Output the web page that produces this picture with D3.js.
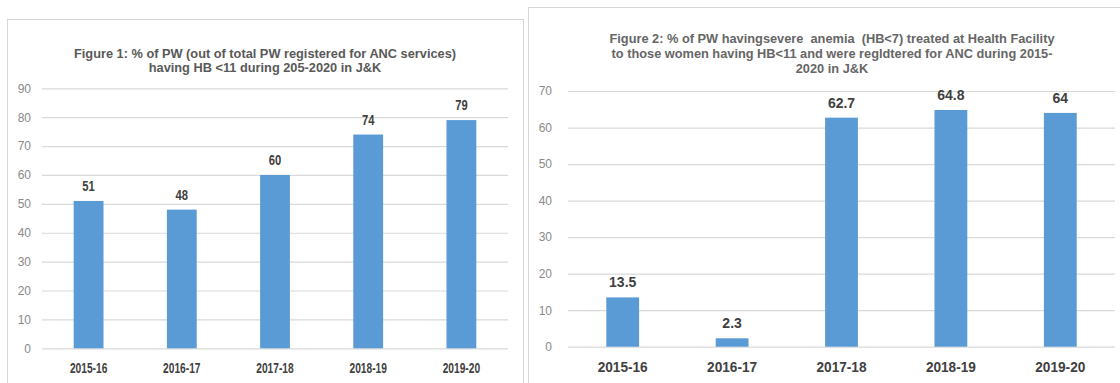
<!DOCTYPE html>
<html>
<head>
<meta charset="utf-8">
<script src="https://cdn.jsdelivr.net/npm/d3@7"></script>
<style>
  html, body { margin: 0; padding: 0; background: #fff; }
  svg { display: block; }
  text { white-space: pre; }
</style>
</head>
<body>
<svg id="chart" width="1120" height="383"></svg>
<script>
// ---- data ----
const years = ["2015-16", "2016-17", "2017-18", "2018-19", "2019-20"];
const hbBelow11Pct = [51, 48, 60, 74, 79];
const severeTreatedPct = [13.5, 2.3, 62.7, 64.8, 64];
const fig1Ticks = [0, 10, 20, 30, 40, 50, 60, 70, 80, 90];
const fig2Ticks = [0, 10, 20, 30, 40, 50, 60, 70];
const fig1Title = [
  "Figure 1: % of PW (out of total PW registered for ANC services)",
  "having HB <11 during 205-2020 in J&K"
];
const fig2Title = [
  "Figure 2: % of PW havingsevere  anemia  (HB<7) treated at Health Facility",
  "to those women having HB<11 and were regldtered for ANC during 2015-",
  "2020 in J&K"
];

// ---- layout ----
const FONT = "'Liberation Sans', Arial, sans-serif";
const BAR = "#5b9bd5";
const GRID = "#d9d9d9";

const panels = [
  {
    values: hbBelow11Pct, ticks: fig1Ticks, title: fig1Title,
    frame: { x: 7.5, y: 19.5, w: 516, h: 420 },
    left: 42, right: 508, top: 88.3, bottom: 348.3,
    padInner: 0.68, padOuter: 0.34,
    tickPad: 11,
    titleX: 265, titleY: [58, 72], titleSize: 13.5, titleWeight: "bold", titleColor: "#595959", titleWidth: 382,
    xSize: 15, xSquash: 0.68, labelSize: 14, labelSquash: 0.8
  },
  {
    values: severeTreatedPct, ticks: fig2Ticks, title: fig2Title,
    frame: { x: 528.5, y: 7.5, w: 620, h: 420 },
    left: 568, right: 1115, top: 91, bottom: 346.7,
    padInner: 0.70, padOuter: 0.35,
    tickPad: 16,
    titleX: 832, titleY: [43, 58, 73], titleSize: 13, titleWeight: "bold", titleColor: "#666666", titleWidth: 445,
    xSize: 14.5, xSquash: 0.94, labelSize: 14, labelSquash: 1.0
  }
];

const svg = d3.select("#chart");

function squash(sel, k) {
  sel.each(function () {
    const n = this.getComputedTextLength();
    d3.select(this).attr("textLength", n * k).attr("lengthAdjust", "spacingAndGlyphs");
  });
}

panels.forEach(p => {
  const g = svg.append("g");

  // chart frame
  g.append("rect")
    .attr("x", p.frame.x).attr("y", p.frame.y)
    .attr("width", p.frame.w).attr("height", p.frame.h)
    .attr("fill", "#fff").attr("stroke", "#d6d6d6").attr("stroke-width", 1);

  const x = d3.scaleBand().domain(years).range([p.left, p.right])
    .paddingInner(p.padInner).paddingOuter(p.padOuter);
  const y = d3.scaleLinear().domain([0, d3.max(p.ticks)]).range([p.bottom, p.top]);

  // gridlines + value axis labels
  const yAxis = d3.axisLeft(y).tickValues(p.ticks).tickFormat(d3.format("d"))
    .tickSize(-(p.right - p.left)).tickPadding(p.tickPad);
  const ay = g.append("g").attr("transform", `translate(${p.left},0)`).call(yAxis);
  ay.select(".domain").remove();
  ay.selectAll(".tick line").attr("stroke", GRID).attr("stroke-width", 1.2);
  ay.selectAll(".tick text").attr("fill", "#8a8a8a")
    .style("font-family", FONT).style("font-size", "12px");

  // bars
  g.selectAll("rect.bar").data(p.values).join("rect")
    .attr("class", "bar")
    .attr("x", (d, i) => x(years[i]))
    .attr("width", x.bandwidth())
    .attr("y", d => y(d))
    .attr("height", d => y(0) - y(d))
    .attr("fill", BAR);

  // value labels
  const vl = g.selectAll("text.val").data(p.values).join("text")
    .attr("class", "val")
    .attr("x", (d, i) => x(years[i]) + x.bandwidth() / 2)
    .attr("y", d => y(d) - 10)
    .attr("text-anchor", "middle")
    .attr("fill", "#404040")
    .style("font-family", FONT).style("font-size", p.labelSize + "px").style("font-weight", "bold")
    .text(d => d);
  squash(vl, p.labelSquash);

  // category labels
  const xl = g.selectAll("text.cat").data(years).join("text")
    .attr("class", "cat")
    .attr("x", d => x(d) + x.bandwidth() / 2)
    .attr("y", p.bottom + 25)
    .attr("text-anchor", "middle")
    .attr("fill", "#404040")
    .style("font-family", FONT).style("font-size", p.xSize + "px").style("font-weight", "bold")
    .text(d => d);
  squash(xl, p.xSquash);

  // title
  const tl = g.selectAll("text.title").data(p.title).join("text")
    .attr("class", "title")
    .attr("x", p.titleX)
    .attr("y", (d, i) => p.titleY[i])
    .attr("text-anchor", "middle")
    .attr("fill", p.titleColor)
    .style("font-family", FONT).style("font-size", p.titleSize + "px").style("font-weight", p.titleWeight)
    .text(d => d);
  const first = tl.node().getComputedTextLength();
  squash(tl, p.titleWidth / first);
});
</script>
</body>
</html>
